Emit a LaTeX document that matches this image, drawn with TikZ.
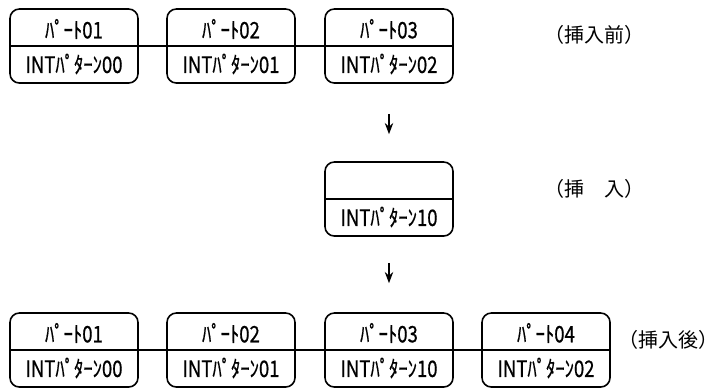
\documentclass[tikz,border=0pt]{standalone}
\usepackage{fontspec}
\usepackage{tikz}
\usetikzlibrary{arrows.meta, positioning, calc}
\newfontfamily\jp{Noto Sans CJK JP}[FakeStretch=0.82, FakeBold=0.6]
\newfontfamily\jptag{Noto Sans CJK JP}

\begin{document}
\begin{tikzpicture}[>=Stealth, x=0.75pt, y=-0.75pt, line width=1.2pt,
    partbox/.style={draw, rounded corners=7pt, minimum width=96pt, minimum height=55.5pt, inner sep=0pt},
    parttext/.style={font=\jp\fontsize{17}{17}\selectfont, inner sep=0pt},
    tag/.style={font=\jptag\fontsize{15}{15}\selectfont, inner sep=0pt}]
        \useasboundingbox (0,0) rectangle (718,387);
        % before the insert
        \foreach \i/\x/\name/\pat in {1/74/ﾊﾟｰﾄ01/INTﾊﾟﾀｰﾝ00, 2/231/ﾊﾟｰﾄ02/INTﾊﾟﾀｰﾝ01, 3/389/ﾊﾟｰﾄ03/INTﾊﾟﾀｰﾝ02} {
            \node [partbox] (a\i) at (\x,46) {};
            \draw (a\i.west) -- (a\i.east);
            \node [parttext] (an\i) at ($(a\i.center)+(0,-17)$) {\name};
            \node [parttext] (ap\i) at ($(a\i.center)+(0,18)$) {\pat};
        }
        \draw [line width=0.8pt] (a1.east) -- (a2.west);
        \draw [line width=0.8pt] (a2.east) -- (a3.west);
        \node [tag] (before) at (594,35) {（挿入前）};
        % the inserted part
        \node [partbox] (ins) at (389,199) {};
        \draw (ins.west) -- (ins.east);
        \node [parttext] (insp) at ($(ins.center)+(0,18)$) {INTﾊﾟﾀｰﾝ10};
        \node [tag] (insert) at (594,189) {（挿　入）};
        % after the insert
        \foreach \i/\x/\name/\pat in {1/74/ﾊﾟｰﾄ01/INTﾊﾟﾀｰﾝ00, 2/231/ﾊﾟｰﾄ02/INTﾊﾟﾀｰﾝ01, 3/389/ﾊﾟｰﾄ03/INTﾊﾟﾀｰﾝ10, 4/546/ﾊﾟｰﾄ04/INTﾊﾟﾀｰﾝ02} {
            \node [partbox] (b\i) at (\x,350) {};
            \draw (b\i.west) -- (b\i.east);
            \node [parttext] (bn\i) at ($(b\i.center)+(0,-17)$) {\name};
            \node [parttext] (bp\i) at ($(b\i.center)+(0,18)$) {\pat};
        }
        \draw [line width=0.8pt] (b1.east) -- (b2.west);
        \draw [line width=0.8pt] (b2.east) -- (b3.west);
        \draw [line width=0.8pt] (b3.east) -- (b4.west);
        \node [tag] (after) at (668,340) {（挿入後）};
        % steps
        \draw [->, shorten <=22.5pt, shorten >=20.25pt] (a3.south) -- (ins.north);
        \draw [->, shorten <=19.5pt, shorten >=21.75pt] (ins.south) -- (b3.north);
    \end{tikzpicture}
\end{document}
